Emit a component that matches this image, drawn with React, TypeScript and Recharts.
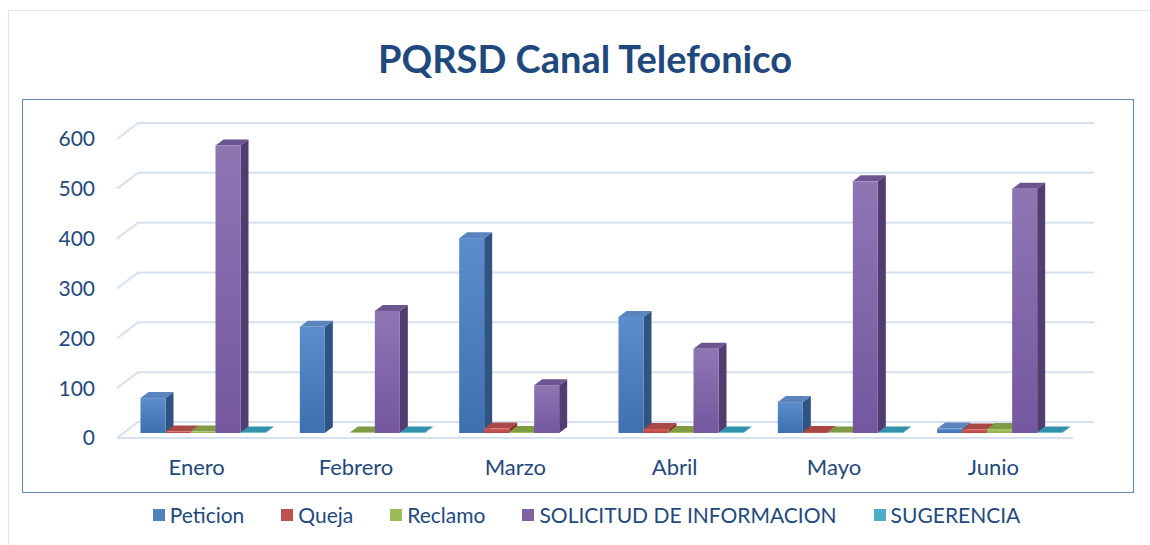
import React from 'react';
import { BarChart, Bar, XAxis, YAxis, CartesianGrid, ReferenceLine } from 'recharts';

const MONTHS = ['Enero', 'Febrero', 'Marzo', 'Abril', 'Mayo', 'Junio'];
const PETICION = [70, 213, 391, 233, 62, 9];
const QUEJA = [3, 0, 9, 8, 2, 7];
const RECLAMO = [3, 1, 2, 2, 1, 8];
const SOLICITUD = [577, 245, 96, 169, 505, 490];
const SUGERENCIA = [1, 1, 0, 1, 1, 1];
const Y_TICKS = [0, 100, 200, 300, 400, 500, 600];

const SERIES = [
  { key: 'peticion', name: 'Peticion', values: PETICION, light: '#5b8dcc', dark: '#3e70b0', side: '#2f5383', top: '#5a84bd', legend: '#4f81bd' },
  { key: 'queja', name: 'Queja', values: QUEJA, light: '#d0605c', dark: '#b7433f', side: '#8c302d', top: '#a94844', legend: '#c0504d' },
  { key: 'reclamo', name: 'Reclamo', values: RECLAMO, light: '#a9c96a', dark: '#8fae4d', side: '#6a8437', top: '#7f9c45', legend: '#9bbb59' },
  { key: 'solicitud', name: 'SOLICITUD DE INFORMACION', values: SOLICITUD, light: '#8e76b3', dark: '#74579f', side: '#513d70', top: '#6c5591', legend: '#8064a2' },
  { key: 'sugerencia', name: 'SUGERENCIA', values: SUGERENCIA, light: '#4fb3cc', dark: '#3a98b3', side: '#2c7389', top: '#3493ac', legend: '#4bacc6' },
];

const data = MONTHS.map((m, i) => {
  const row: any = { month: m };
  SERIES.forEach(s => { row[s.key] = s.values[i]; });
  return row;
});

// bars sit half way into the floor depth
const SHIFT_X = 6.5;
const SHIFT_Y = -5;
const DEPTH_X = 8;
const DEPTH_Y = -6;
// full floor depth for the gridlines
const WALL_X = 21;
const WALL_Y = -16;

const GRID = '#d6e1ef';
const TEXT = '#1f497d';

const makeShape = (s: typeof SERIES[number]) => (props: any) => {
  const { x, y, width, height, value } = props;
  if (!value || value <= 0) return <g />;
  const x0 = x + SHIFT_X;
  const y0 = y + SHIFT_Y;
  const w = width;
  const h = Math.max(height, 0);
  return (
    <g>
      <path
        d={`M${x0 + w},${y0} L${x0 + w + DEPTH_X},${y0 + DEPTH_Y} L${x0 + w + DEPTH_X},${y0 + h + DEPTH_Y} L${x0 + w},${y0 + h} Z`}
        fill={s.side}
      />
      <path
        d={`M${x0},${y0} L${x0 + DEPTH_X},${y0 + DEPTH_Y} L${x0 + w + DEPTH_X},${y0 + DEPTH_Y} L${x0 + w},${y0} Z`}
        fill={s.top}
      />
      <rect x={x0} y={y0} width={w} height={h} fill={`url(#grad-${s.key})`} />
    </g>
  );
};

const gridLine = (props: any) => {
  const { x1, x2, y1, key } = props;
  return (
    <path
      key={key}
      d={`M${x1},${y1} L${x1 + WALL_X},${y1 + WALL_Y} L${x2 + WALL_X},${y1 + WALL_Y}`}
      stroke={GRID}
      strokeWidth={2}
      fill="none"
    />
  );
};

const App: React.FC = () => {
  return (
    <div style={{ position: 'absolute', left: 0, top: 0, width: 1150, height: 545, background: '#fff', fontFamily: 'Lato, sans-serif', overflow: 'hidden' }}>
      <div style={{ position: 'absolute', left: 8, top: 10, width: 1160, height: 560, border: '1.5px solid #dbe4f0' }} />
      <div style={{ position: 'absolute', left: 22, top: 99, width: 1110, height: 392, border: '1.5px solid #5b86bd' }} />
      <div style={{ position: 'absolute', left: 0, top: 36, width: 1170, textAlign: 'center', fontSize: 38, fontWeight: 700, color: TEXT, lineHeight: '44px' }}>
        PQRSD Canal Telefonico
      </div>
      <div style={{ position: 'absolute', left: 0, top: 0 }}>
        <BarChart
          width={1150}
          height={545}
          data={data}
          margin={{ top: 139, right: 77, bottom: 77, left: 0 }}
          barSize={25}
          barGap={0}
        >
          <defs>
            {SERIES.map(s => (
              <linearGradient key={s.key} id={`grad-${s.key}`} x1="0" y1="0" x2="0" y2="1">
                <stop offset="0%" stopColor={s.light} />
                <stop offset="100%" stopColor={s.dark} />
              </linearGradient>
            ))}
          </defs>
          <CartesianGrid vertical={false} horizontal={gridLine} />
          <ReferenceLine y={0} stroke={GRID} strokeWidth={2} />
          <XAxis
            dataKey="month"
            height={30}
            axisLine={false}
            tickLine={false}
            tickSize={0}
            tickMargin={21}
            tick={{ fill: TEXT, fontSize: 22 }}
          />
          <YAxis
            width={117}
            domain={[0, 600]}
            ticks={Y_TICKS}
            axisLine={false}
            tickLine={false}
            tickSize={0}
            tickMargin={22}
            tick={{ fill: TEXT, fontSize: 21 }}
          />
          {SERIES.map(s => (
            <Bar key={s.key} dataKey={s.key} name={s.name} fill={s.legend} shape={makeShape(s)} isAnimationActive={false} />
          ))}
        </BarChart>
      </div>
      <div style={{ position: 'absolute', left: 0, top: 502, width: 1173, display: 'flex', justifyContent: 'center', gap: 37, fontSize: 21, color: TEXT }}>
        {SERIES.map(s => (
          <div key={s.key} style={{ display: 'flex', alignItems: 'center' }}>
            <span style={{ display: 'inline-block', width: 12, height: 12, background: s.legend, marginRight: 5 }} />
            <span>{s.name}</span>
          </div>
        ))}
      </div>
    </div>
  );
};

export default App;
